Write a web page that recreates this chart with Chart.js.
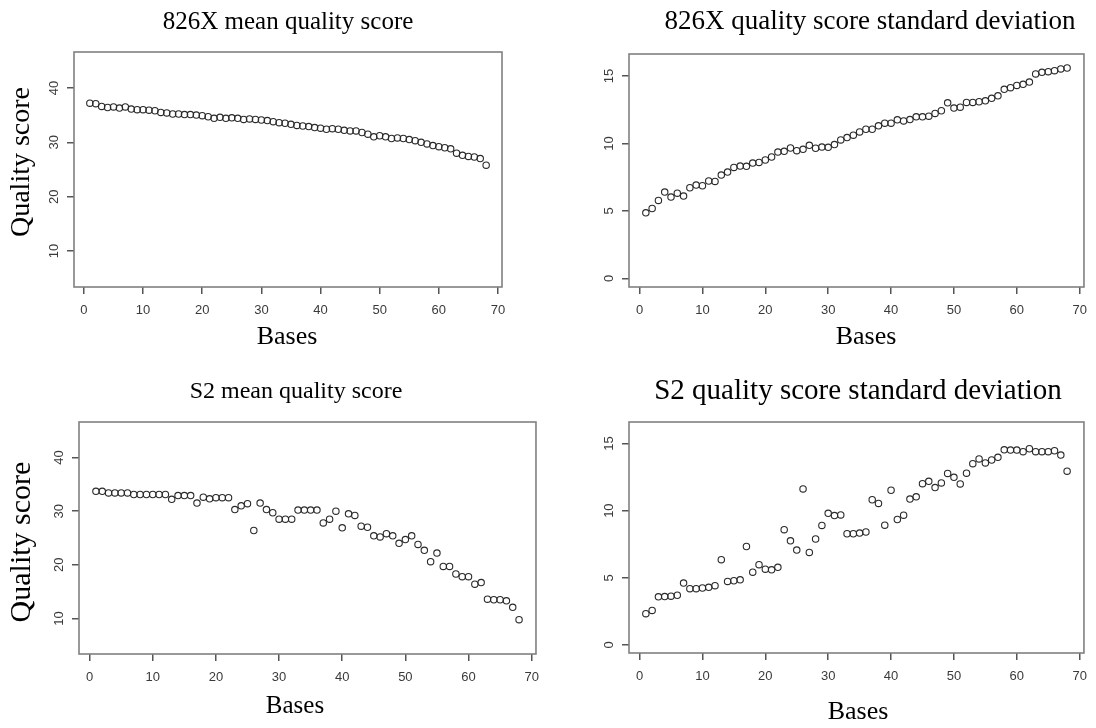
<!DOCTYPE html>
<html lang="en">
<head>
  <meta charset="UTF-8" />
  <title>Quality score per base</title>
  <script src="https://cdn.jsdelivr.net/npm/chart.js@4.4.1/dist/chart.umd.min.js"></script>
  <style>
    html, body { margin: 0; padding: 0; background: #fff; }
    #wrap { position: relative; width: 1096px; height: 728px; }
    .panel { position: absolute; width: 548px; height: 364px; }
  </style>
</head>
<body>
  <div id="wrap">
    <div class="panel" style="left:0;top:0"><canvas id="c1" width="548" height="364"></canvas></div>
    <div class="panel" style="left:548px;top:0"><canvas id="c2" width="548" height="364"></canvas></div>
    <div class="panel" style="left:0;top:364px"><canvas id="c3" width="548" height="364"></canvas></div>
    <div class="panel" style="left:548px;top:364px"><canvas id="c4" width="548" height="364"></canvas></div>
  </div>

  <script>
  // base position along the read
  const bases = [1, 2, 3, 4, 5, 6, 7, 8, 9, 10, 11, 12, 13, 14, 15, 16, 17, 18, 19, 20,
    21, 22, 23, 24, 25, 26, 27, 28, 29, 30, 31, 32, 33, 34, 35, 36, 37, 38, 39, 40,
    41, 42, 43, 44, 45, 46, 47, 48, 49, 50, 51, 52, 53, 54, 55, 56, 57, 58, 59, 60,
    61, 62, 63, 64, 65, 66, 67, 68];

  const mean826X = [37.2, 37.1, 36.6, 36.4, 36.5, 36.3, 36.5, 36.1, 36.0, 36.0,
    35.9, 35.8, 35.5, 35.4, 35.2, 35.2, 35.1, 35.1, 35.0, 34.9,
    34.7, 34.4, 34.6, 34.4, 34.5, 34.4, 34.2, 34.3, 34.2, 34.1,
    34.0, 33.8, 33.6, 33.5, 33.3, 33.1, 33.0, 32.9, 32.7, 32.6,
    32.4, 32.5, 32.4, 32.2, 32.1, 32.1, 31.8, 31.5, 31.0, 31.2,
    31.0, 30.7, 30.8, 30.7, 30.5, 30.3, 30.0, 29.7, 29.4, 29.2,
    29.0, 28.8, 28.0, 27.6, 27.4, 27.3, 27.0, 25.8];

  const sd826X = [4.86, 5.18, 5.78, 6.40, 6.03, 6.32, 6.10, 6.72, 6.92, 6.87,
    7.22, 7.19, 7.66, 7.88, 8.23, 8.33, 8.31, 8.55, 8.60, 8.78,
    9.00, 9.37, 9.42, 9.67, 9.47, 9.57, 9.87, 9.65, 9.74, 9.72,
    9.92, 10.27, 10.44, 10.62, 10.86, 11.06, 11.06, 11.31, 11.51, 11.51,
    11.76, 11.68, 11.78, 11.98, 11.98, 12.03, 12.23, 12.43, 13.02, 12.63,
    12.70, 13.05, 13.05, 13.10, 13.17, 13.35, 13.54, 14.02, 14.14, 14.31,
    14.39, 14.56, 15.16, 15.28, 15.33, 15.40, 15.53, 15.60];

  const meanS2 = [33.7, 33.7, 33.4, 33.4, 33.4, 33.4, 33.1, 33.1, 33.1, 33.1,
    33.1, 33.1, 32.2, 32.9, 32.9, 32.9, 31.5, 32.6, 32.3, 32.5,
    32.5, 32.5, 30.3, 31.0, 31.4, 26.4, 31.5, 30.3, 29.7, 28.5,
    28.5, 28.5, 30.2, 30.2, 30.2, 30.2, 27.8, 28.5, 30.0, 26.9,
    29.5, 29.2, 27.2, 27.0, 25.4, 25.2, 25.8, 25.4, 24.0, 24.7,
    25.4, 23.8, 22.7, 20.6, 22.2, 19.7, 19.7, 18.3, 17.8, 17.8,
    16.4, 16.7, 13.6, 13.5, 13.5, 13.3, 12.1, 9.8];

  const sdS2 = [2.33, 2.57, 3.58, 3.60, 3.63, 3.70, 4.61, 4.19, 4.19, 4.24,
    4.29, 4.41, 6.35, 4.73, 4.78, 4.85, 7.33, 5.42, 5.98, 5.64,
    5.59, 5.78, 8.58, 7.75, 7.06, 11.62, 6.89, 7.89, 8.90, 9.80,
    9.63, 9.68, 8.28, 8.28, 8.33, 8.41, 10.81, 10.54, 8.92, 11.52,
    9.34, 9.66, 10.86, 11.03, 12.01, 12.18, 11.72, 12.06, 12.77, 12.48,
    11.99, 12.79, 13.50, 13.85, 13.55, 13.77, 13.97, 14.53, 14.51, 14.51,
    14.39, 14.61, 14.39, 14.39, 14.39, 14.46, 14.14, 12.94];

  const baseTicks = [0, 10, 20, 30, 40, 50, 60, 70];
  const meanTicks = [10, 20, 30, 40];
  const sdTicks = [0, 5, 10, 15];

  const SERIF = '"Liberation Serif", "Times New Roman", serif';
  const SANS = '"Liberation Sans", Arial, sans-serif';
  const Y_W = 30, X_H = 40;

  // plot frame, rotated y tick labels and the serif titles, R style
  const panelDecor = {
    id: 'panelDecor',
    afterDraw(chart, args, o) {
      const { ctx, chartArea: a } = chart;
      const ys = chart.scales.y;
      ctx.save();
      ctx.strokeStyle = '#808080';
      ctx.lineWidth = 1.6;
      ctx.strokeRect(a.left, a.top, a.right - a.left, a.bottom - a.top);

      ctx.fillStyle = '#3a3a3a';
      ctx.font = '13px ' + SANS;
      ctx.textAlign = 'center';
      ctx.textBaseline = 'middle';
      ys.ticks.forEach(t => {
        ctx.save();
        ctx.translate(a.left - 20, ys.getPixelForValue(t.value));
        ctx.rotate(-Math.PI / 2);
        ctx.fillText(String(t.value), 0, 0);
        ctx.restore();
      });

      ctx.fillStyle = '#000';
      ctx.font = o.titleSize + 'px ' + SERIF;
      ctx.fillText(o.title, o.titleX, o.titleY);
      ctx.font = o.xTitleSize + 'px ' + SERIF;
      ctx.fillText('Bases', o.xTitleX, o.xTitleY);
      if (o.yTitle) {
        ctx.save();
        ctx.translate(o.yTitleX, o.yTitleY);
        ctx.rotate(-Math.PI / 2);
        ctx.font = o.yTitleSize + 'px ' + SERIF;
        ctx.fillText(o.yTitle, 0, 0);
        ctx.restore();
      }
      ctx.restore();
    }
  };

  function makePanel(id, values, yTicks, yMin, yMax, box, decor) {
    new Chart(document.getElementById(id), {
      type: 'scatter',
      data: {
        datasets: [{
          data: bases.map((b, i) => ({ x: b, y: values[i] })),
          pointStyle: 'circle',
          pointRadius: 3.2,
          pointBorderWidth: 1.1,
          borderColor: '#2a2a2a',
          backgroundColor: 'rgba(0,0,0,0)'
        }]
      },
      options: {
        responsive: false,
        animation: false,
        events: [],
        layout: {
          padding: { left: box.l - Y_W, top: box.t, right: 548 - box.r, bottom: 364 - box.b - X_H }
        },
        plugins: { legend: { display: false }, tooltip: { enabled: false }, panelDecor: decor },
        scales: {
          x: {
            type: 'linear', min: -1.68, max: 70.68,
            afterBuildTicks: s => { s.ticks = baseTicks.map(v => ({ value: v })); },
            afterFit: s => { s.height = X_H; },
            border: { display: false },
            grid: { drawOnChartArea: false, drawTicks: true, tickLength: 7, color: '#555', lineWidth: 1.5 },
            ticks: { color: '#3a3a3a', font: { family: SANS, size: 13 }, padding: 9, maxRotation: 0 }
          },
          y: {
            type: 'linear', min: yMin, max: yMax,
            afterBuildTicks: s => { s.ticks = yTicks.map(v => ({ value: v })); },
            afterFit: s => { s.width = Y_W; },
            border: { display: false },
            grid: { drawOnChartArea: false, drawTicks: true, tickLength: 7, color: '#555', lineWidth: 1.5 },
            ticks: { display: false }
          }
        }
      },
      plugins: [panelDecor]
    });
  }

  makePanel('c1', mean826X, meanTicks, 3.4, 46.6, { l: 74, t: 52, r: 502, b: 287 },
    { title: '826X mean quality score', titleX: 288, titleY: 22, titleSize: 25,
      xTitleX: 287, xTitleY: 337, xTitleSize: 26,
      yTitle: 'Quality score', yTitleX: 22, yTitleY: 162, yTitleSize: 28 });

  makePanel('c2', sd826X, sdTicks, -0.64, 16.64, { l: 81, t: 54, r: 539, b: 287 },
    { title: '826X quality score standard deviation', titleX: 322, titleY: 22, titleSize: 27,
      xTitleX: 318, xTitleY: 337, xTitleSize: 26 });

  makePanel('c3', meanS2, meanTicks, 3.4, 46.6, { l: 79, t: 58, r: 538, b: 290 },
    { title: 'S2 mean quality score', titleX: 296, titleY: 28, titleSize: 24,
      xTitleX: 295, xTitleY: 342, xTitleSize: 25,
      yTitle: 'Quality score', yTitleX: 22, yTitleY: 178, yTitleSize: 30 });

  makePanel('c4', sdS2, sdTicks, -0.6, 16.6, { l: 81, t: 58, r: 538, b: 289 },
    { title: 'S2 quality score standard deviation', titleX: 310, titleY: 27, titleSize: 29,
      xTitleX: 310, xTitleY: 348, xTitleSize: 26 });
  </script>
</body>
</html>
